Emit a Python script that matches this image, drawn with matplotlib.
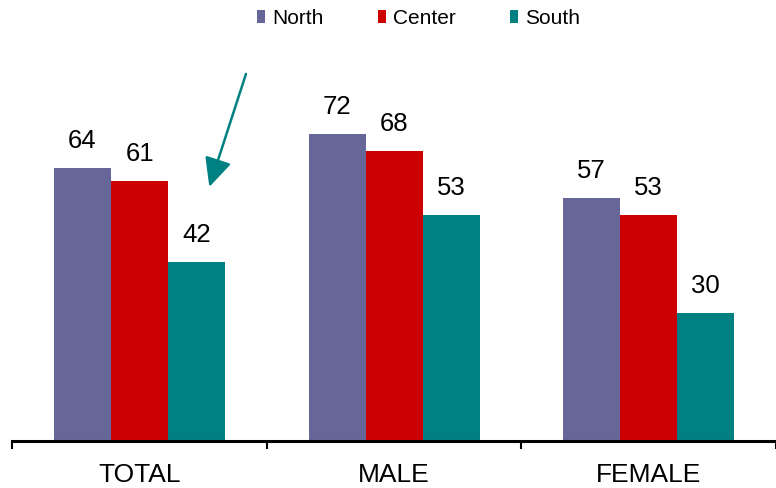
import matplotlib
matplotlib.use("Agg")
import matplotlib.pyplot as plt
import numpy as np
from matplotlib.patches import Patch

# Data
categories = ["TOTAL", "MALE", "FEMALE"]
series_names = ["North", "Center", "South"]
north = [64, 72, 57]
center = [61, 68, 53]
south = [42, 53, 30]
colors = ["#666699", "#CC0000", "#008080"]

plt.rcParams["font.family"] = ["Liberation Sans", "DejaVu Sans"]

fig = plt.figure(figsize=(7.76, 4.88), dpi=100)
W, H = 776, 488
unit_px = 256.0
left_px = 12.3
ax = fig.add_axes([left_px / W, 47 / H, (W - left_px) / W, 441 / H])

x = np.arange(len(categories))
bar_w = 0.224
values = [north, center, south]
for i, (vals, col) in enumerate(zip(values, colors)):
    pos = x + (i - 1) * bar_w
    ax.bar(pos, vals, width=bar_w, color=col, edgecolor="none", zorder=2)
    for px, v in zip(pos, vals):
        ax.annotate(f"{v}", (px, v), xytext=(0, 14.5), textcoords="offset points",
                    ha="center", va="baseline", fontsize=18.5, color="black")

ax.set_xlim(-0.5, -0.5 + (W - left_px) / unit_px)
ax.set_ylim(0, 441 / 4.264)

# Axis styling: only bottom spine with boundary ticks
for s in ["top", "right", "left"]:
    ax.spines[s].set_visible(False)
ax.spines["bottom"].set_linewidth(2.2)
ax.spines["bottom"].set_color("black")
ax.set_yticks([])
ax.set_xticks(np.arange(-0.5, len(categories) + 0.5, 1.0))
ax.set_xticklabels([])
ax.tick_params(axis="x", which="major", direction="out", length=6, width=1.5, color="black")
ax.set_xticks(x, minor=True)
ax.set_xticklabels(categories, minor=True, fontsize=19)
ax.tick_params(axis="x", which="minor", length=0, pad=15.5)

# Pointer arrow
ax.annotate("", xy=(0.274, 59.6), xytext=(0.418, 86.1),
            arrowprops=dict(arrowstyle="-|>,head_length=0.8,head_width=0.38",
                            color="#008080", lw=1.8, mutation_scale=22,
                            shrinkA=0, shrinkB=0))

# Legend
handles = [Patch(facecolor=c, edgecolor="none") for c in colors]
fig.legend(handles, series_names, loc="center left",
           bbox_to_anchor=(257 / W, 1 - 18 / H), ncol=3, frameon=False,
           fontsize=15, handlelength=0.385, handleheight=0.58, handletextpad=0.34,
           columnspacing=2.6, borderpad=0, borderaxespad=0)

fig.savefig("out.png", dpi=100)
